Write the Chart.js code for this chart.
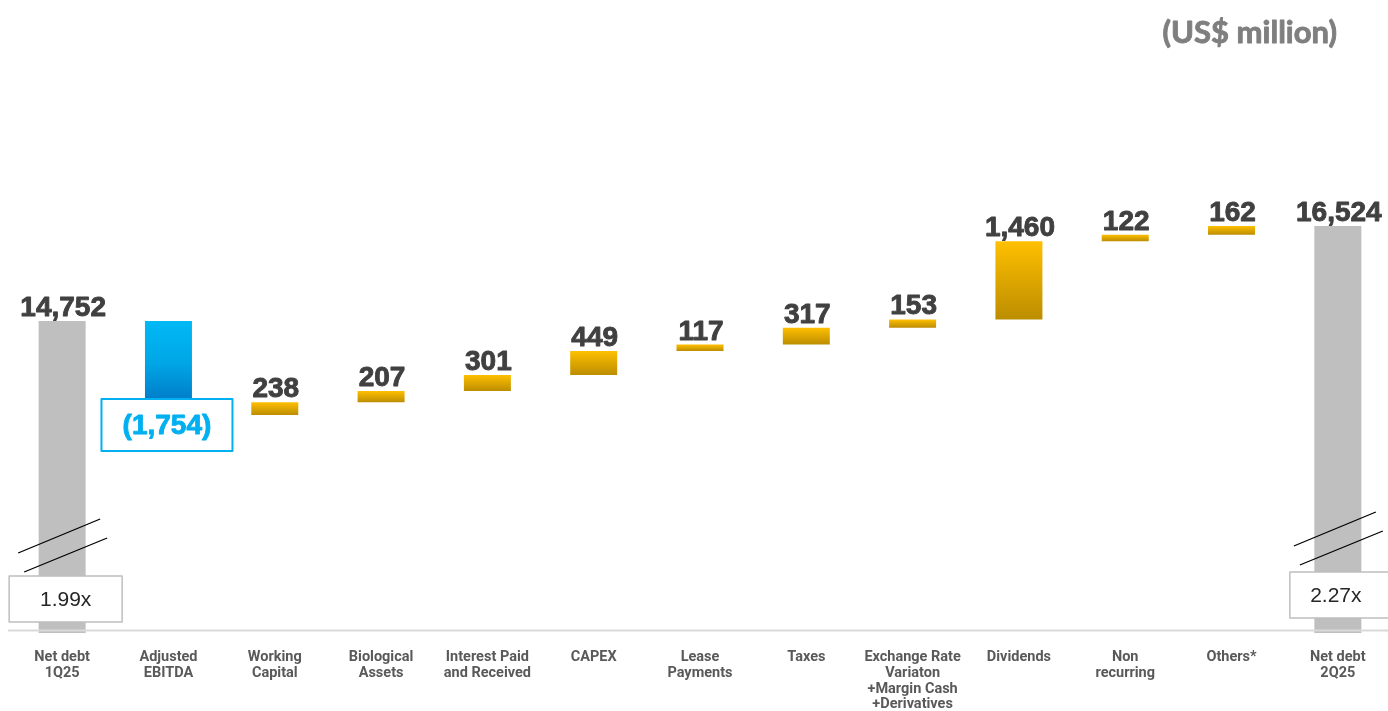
<!DOCTYPE html>
<html lang="en">
<head>
    <meta charset="UTF-8">
    <title>Net Debt Bridge 1Q25 - 2Q25</title>
    <script src="https://cdn.jsdelivr.net/npm/chart.js"></script>
    <style>
        html, body { margin: 0; padding: 0; background: #fff; overflow: hidden; }
        #wrap { width: 1388px; height: 711px; overflow: hidden; position: relative; }
        canvas { display: block; }
    </style>
</head>
<body>
<div id="wrap">
    <canvas id="bridgeChart" width="1396" height="711"></canvas>
</div>

<script>
    // Bridge categories (multi-line axis labels)
    const categories = [
        ['Net debt', '1Q25'],
        ['Adjusted', 'EBITDA'],
        ['Working', 'Capital'],
        ['Biological', 'Assets'],
        ['Interest Paid', 'and Received'],
        ['CAPEX'],
        ['Lease', 'Payments'],
        ['Taxes'],
        ['Exchange Rate', 'Variaton', '+Margin Cash', '+Derivatives'],
        ['Dividends'],
        ['Non', 'recurring'],
        ['Others*'],
        ['Net debt', '2Q25']
    ];

    // US$ million; first and last are totals, the rest are movements
    const values = [14752, -1754, 238, 207, 301, 449, 117, 317, 153, 1460, 122, 162, 16524];
    const kinds = ['total', 'decrease', 'increase', 'increase', 'increase', 'increase',
                   'increase', 'increase', 'increase', 'increase', 'increase', 'increase', 'total'];

    // Net debt / EBITDA leverage shown at the bottom of the total bars
    const leverage = ['1.99x', null, null, null, null, null, null, null, null, null, null, null, '2.27x'];

    // build floating [start, end] pairs for the waterfall
    const bars = [];
    let running = 0;
    values.forEach((v, i) => {
        if (kinds[i] === 'total') {
            bars.push([0, v]);
            running = v;
        } else {
            bars.push([running, running + v]);
            running += v;
        }
    });

    function fmt(v) {
        const s = Math.abs(v).toLocaleString('en-US');
        return v < 0 ? '(' + s + ')' : s;
    }

    function barFill(ctx) {
        const i = ctx.dataIndex;
        const kind = kinds[i];
        if (kind === 'total') return '#BFBFBF';
        const chart = ctx.chart;
        const y = chart.scales && chart.scales.y;
        const solid = kind === 'decrease' ? '#00A6E8' : '#E6AE00';
        if (!chart.chartArea || !y) return solid;
        const [a, b] = bars[i];
        const top = y.getPixelForValue(Math.max(a, b));
        const bottom = y.getPixelForValue(Math.min(a, b));
        if (!isFinite(top) || !isFinite(bottom) || bottom - top < 1) return solid;
        const g = chart.ctx.createLinearGradient(0, top, 0, bottom);
        if (kind === 'decrease') {
            g.addColorStop(0, '#00B9F5');
            g.addColorStop(0.45, '#00A6E6');
            g.addColorStop(1, '#006CBD');
        } else {
            g.addColorStop(0, '#FFC000');
            g.addColorStop(1, '#BC8D00');
        }
        return g;
    }

    // bold text with a thin outline so the digits read heavier
    function heavyText(c, text, x, y, color) {
        c.fillStyle = color;
        c.strokeStyle = color;
        c.lineWidth = 0.9;
        c.lineJoin = 'round';
        c.fillText(text, x, y);
        c.strokeText(text, x, y);
    }

    // labels, leverage boxes, axis break marks, axis line and unit title
    const bridgeDecor = {
        id: 'bridgeDecor',
        afterDatasetsDraw(chart) {
            const c = chart.ctx;
            const meta = chart.getDatasetMeta(0);
            const area = chart.chartArea;

            c.save();
            // base line
            c.strokeStyle = '#D9D9D9';
            c.lineWidth = 2;
            c.beginPath();
            c.moveTo(8, area.bottom - 2.5);
            c.lineTo(chart.width, area.bottom - 2.5);
            c.stroke();

            meta.data.forEach((el, i) => {
                const top = Math.min(el.y, el.base);
                const bottom = Math.max(el.y, el.base);
                const cx = el.x;

                c.font = 'bold 28px "Liberation Sans", Arial, sans-serif';
                c.textAlign = 'center';
                if (kinds[i] === 'decrease') {
                    // boxed blue label sitting over the lower part of the bar
                    const bw = 131, bh = 52;
                    const bx = cx - 67, by = bottom - 16;
                    c.fillStyle = '#FFFFFF';
                    c.fillRect(bx, by, bw, bh);
                    c.strokeStyle = '#00B0F0';
                    c.lineWidth = 2;
                    c.strokeRect(bx, by, bw, bh);
                    c.textBaseline = 'middle';
                    heavyText(c, fmt(values[i]), bx + bw / 2, by + bh / 2 + 1, '#00B0F0');
                } else {
                    c.textBaseline = 'alphabetic';
                    heavyText(c, fmt(values[i]), cx + 1, top - 5, '#404040');
                }

                if (kinds[i] === 'total') {
                    // axis break: two parallel slashes across the bar
                    const lift = i === 0 ? 0 : -7;
                    const yb = area.bottom + lift;
                    c.strokeStyle = '#000000';
                    c.lineWidth = 1.3;
                    c.beginPath();
                    c.moveTo(cx - 44, yb - 80);
                    c.lineTo(cx + 38, yb - 114);
                    c.moveTo(cx - 38, yb - 61);
                    c.lineTo(cx + 45, yb - 95);
                    c.stroke();
                }

                if (leverage[i]) {
                    const first = i === 0;
                    const bw = first ? 113 : 104;
                    const bx = first ? cx - 53 : cx - 48;
                    const by = first ? area.bottom - 57 : area.bottom - 61;
                    const bh = 46;
                    c.fillStyle = '#FFFFFF';
                    c.fillRect(bx, by, bw, bh);
                    c.strokeStyle = '#BFBFBF';
                    c.lineWidth = 1.5;
                    c.strokeRect(bx, by, bw, bh);
                    c.fillStyle = '#262626';
                    c.font = '21px "Liberation Sans", Arial, sans-serif';
                    c.textAlign = 'center';
                    c.textBaseline = 'middle';
                    const tx = first ? bx + bw / 2 : cx - 2;
                    c.fillText(leverage[i], tx, by + bh / 2 + 1);
                }
            });

            // unit title
            c.font = 'bold 31px "Lato", "DejaVu Sans", sans-serif';
            c.textAlign = 'right';
            c.textBaseline = 'middle';
            heavyText(c, '(US$ million)', 1337, 33, '#7F7F7F');
            c.restore();
        }
    };

    const ctx = document.getElementById('bridgeChart').getContext('2d');
    new Chart(ctx, {
        type: 'bar',
        data: {
            labels: categories,
            datasets: [{
                data: bars,
                backgroundColor: barFill,
                borderWidth: 0,
                barPercentage: 0.442,
                categoryPercentage: 1.0
            }]
        },
        options: {
            responsive: false,
            animation: false,
            layout: { padding: { top: 60, left: 9, right: 5, bottom: 0 } },
            plugins: {
                legend: { display: false },
                tooltip: { enabled: false },
                title: { display: false }
            },
            scales: {
                x: {
                    grid: { display: false, drawTicks: false },
                    border: { display: false },
                    ticks: {
                        color: '#595959',
                        padding: 16,
                        maxRotation: 0,
                        autoSkip: false,
                        font: { family: 'Roboto, "Liberation Sans", sans-serif', size: 14.5, weight: 'bold', lineHeight: 1.1 }
                    },
                    afterFit(scale) { scale.height = 78; }
                },
                y: {
                    display: false,
                    min: 8930,
                    max: 19620
                }
            }
        },
        plugins: [bridgeDecor]
    });
</script>
</body>
</html>
